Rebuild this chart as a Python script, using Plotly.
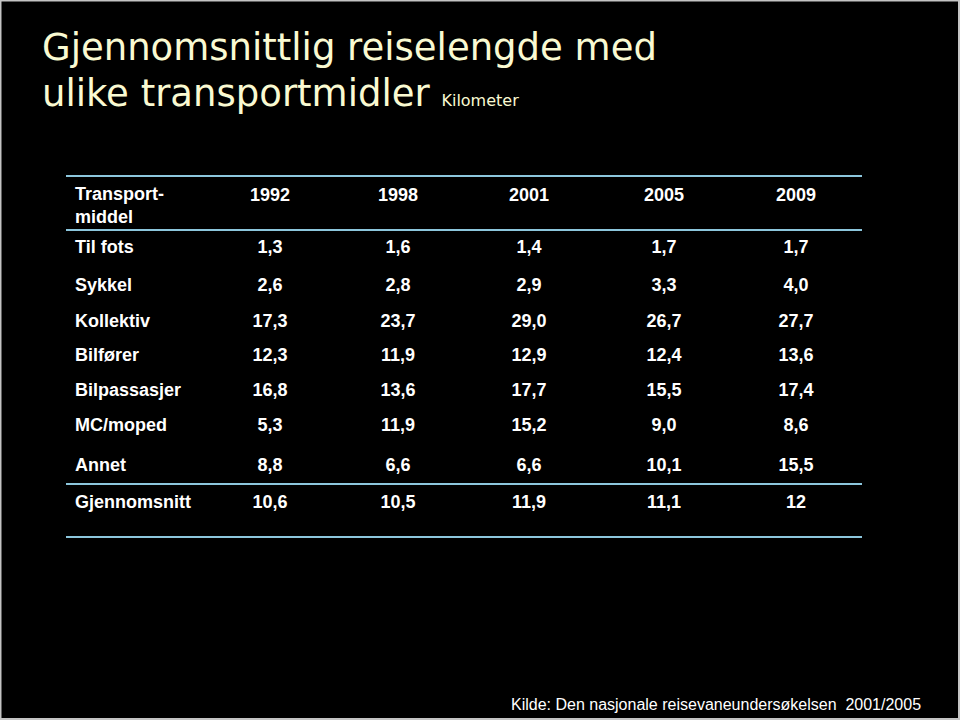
import plotly.graph_objects as go

# ---- data ----
title_line1 = "Gjennomsnittlig reiselengde med"
title_line2 = "ulike transportmidler"
unit_label = "Kilometer"
source_text = "Kilde: Den nasjonale reisevaneundersøkelsen  2001/2005"

header_label = "Transport-<br>middel"
years = ["1992", "1998", "2001", "2005", "2009"]
modes = ["Til fots", "Sykkel", "Kollektiv", "Bilfører", "Bilpassasjer",
         "MC/moped", "Annet", "Gjennomsnitt"]
v1992 = ["1,3", "2,6", "17,3", "12,3", "16,8", "5,3", "8,8", "10,6"]
v1998 = ["1,6", "2,8", "23,7", "11,9", "13,6", "11,9", "6,6", "10,5"]
v2001 = ["1,4", "2,9", "29,0", "12,9", "17,7", "15,2", "6,6", "11,9"]
v2005 = ["1,7", "3,3", "26,7", "12,4", "15,5", "9,0", "10,1", "11,1"]
v2009 = ["1,7", "4,0", "27,7", "13,6", "17,4", "8,6", "15,5", "12"]
columns = [v1992, v1998, v2001, v2005, v2009]

# ---- layout geometry (pixel coordinates) ----
W, H = 960, 720
col_x = [270, 398, 529, 664, 796]
label_x = 75
header_y = 196
header_label_y = 207
row_y = [248, 286, 322, 356, 391, 426, 466, 503]
rule_y = [176, 230, 484, 537]
rule_x0, rule_x1 = 66, 862

TEXT_FONT = dict(family="Liberation Sans, Arial, sans-serif", size=18, color="white")
RULE_COLOR = "#8cc6dc"
TITLE_COLOR = "#fafad2"

fig = go.Figure()

# header
fig.add_trace(go.Scatter(x=[label_x], y=[header_label_y], mode="text",
                         text=[f"<b>{header_label}</b>"], textposition="middle right",
                         textfont=TEXT_FONT, hoverinfo="skip", showlegend=False))
fig.add_trace(go.Scatter(x=col_x, y=[header_y] * len(years), mode="text",
                         text=[f"<b>{y}</b>" for y in years], textposition="middle center",
                         textfont=TEXT_FONT, hoverinfo="skip", showlegend=False))
# row labels
fig.add_trace(go.Scatter(x=[label_x] * len(modes), y=row_y, mode="text",
                         text=[f"<b>{m}</b>" for m in modes], textposition="middle right",
                         textfont=TEXT_FONT, hoverinfo="skip", showlegend=False))
# values
for cx, vals in zip(col_x, columns):
    fig.add_trace(go.Scatter(x=[cx] * len(vals), y=row_y, mode="text",
                             text=[f"<b>{v}</b>" for v in vals], textposition="middle center",
                             textfont=TEXT_FONT, hoverinfo="skip", showlegend=False))

# rules
for ry in rule_y:
    fig.add_shape(type="line", x0=rule_x0, x1=rule_x1, y0=ry, y1=ry,
                  xref="x", yref="y", line=dict(color=RULE_COLOR, width=2))

# frame
fig.add_shape(type="rect", x0=0.5, x1=W - 1, y0=0.5, y1=H - 1, xref="x", yref="y",
              line=dict(color="#c4c4c4", width=2))

# title
fig.add_annotation(x=40, y=47, xref="x", yref="y", text=title_line1, showarrow=False,
                   xanchor="left", yanchor="middle",
                   font=dict(family="DejaVu Sans", size=37, color=TITLE_COLOR))
fig.add_annotation(x=40, y=93, xref="x", yref="y",
                   text=f"{title_line2} <span style='font-size:16px'>{unit_label}</span>",
                   showarrow=False, xanchor="left", yanchor="middle",
                   font=dict(family="DejaVu Sans", size=37, color=TITLE_COLOR))
# source
fig.add_annotation(x=509, y=704, xref="x", yref="y", text=source_text, showarrow=False,
                   xanchor="left", yanchor="middle",
                   font=dict(family="Liberation Sans, Arial, sans-serif", size=16, color="white"))

fig.update_xaxes(range=[0, W], visible=False, fixedrange=True)
fig.update_yaxes(range=[H, 0], visible=False, fixedrange=True)
fig.update_layout(width=W, height=H, margin=dict(l=0, r=0, t=0, b=0),
                  paper_bgcolor="black", plot_bgcolor="black")

fig.write_html("out.html", config={"displayModeBar": False},
               post_script="document.body.style.margin='0';")
